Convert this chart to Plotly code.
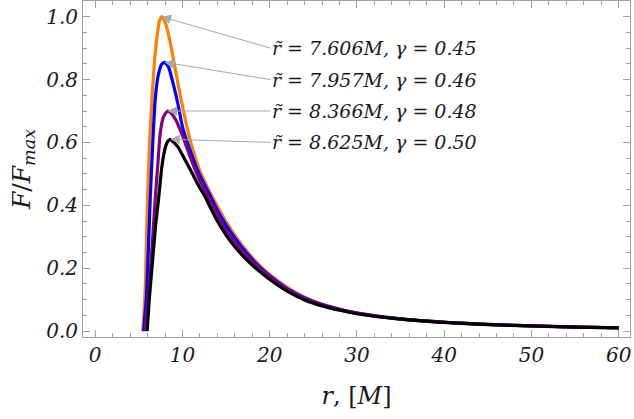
import plotly.graph_objects as go

r_orange = [5.45, 5.6, 5.75, 5.9, 6.0, 6.2, 6.5, 6.8, 7.1, 7.35, 7.6, 7.9, 8.3, 8.8, 9.3, 10, 11, 12, 13, 14, 15, 16, 17,
            18, 19, 20, 22, 24, 26, 28, 30, 35, 40, 45, 50, 55, 60]
f_orange = [0.0, 0.06, 0.15, 0.32, 0.42, 0.58, 0.74, 0.86, 0.94, 0.985, 1.0, 0.99, 0.955, 0.89, 0.815, 0.715, 0.595,
            0.51, 0.45, 0.398, 0.348, 0.305, 0.267, 0.234, 0.205, 0.18, 0.139, 0.108, 0.086, 0.07, 0.058, 0.039, 0.028,
            0.021, 0.0165, 0.013, 0.0105]

r_blue = [5.55, 5.7, 5.85, 6.0, 6.3, 6.6, 6.87, 7.2, 7.6, 7.96, 8.4, 9.0, 9.5, 10, 11, 12, 13, 14, 15, 16, 17,
          18, 19, 20, 22, 24, 26, 28, 30, 35, 40, 45, 50, 55, 60]
f_blue = [0.0, 0.05, 0.1, 0.19, 0.417, 0.6, 0.735, 0.81, 0.848, 0.855, 0.84, 0.78, 0.72, 0.65, 0.565, 0.495, 0.44,
          0.385, 0.337, 0.296, 0.26, 0.228, 0.2, 0.176, 0.135, 0.105, 0.084, 0.069, 0.057, 0.0385, 0.028, 0.021,
          0.0163, 0.0128, 0.0104]

r_purple = [5.7, 5.9, 6.1, 6.4, 6.87, 7.2, 7.45, 7.8, 8.3, 8.8, 9.3, 9.74, 10, 11, 12, 13, 14, 15, 16, 17,
            18, 19, 20, 22, 24, 26, 28, 30, 35, 40, 45, 50, 55, 60]
f_purple = [0.0, 0.05, 0.109, 0.22, 0.417, 0.54, 0.629, 0.68, 0.70, 0.69, 0.668, 0.64, 0.622, 0.545, 0.478, 0.425,
            0.37, 0.321, 0.283, 0.25, 0.221, 0.195, 0.172, 0.132, 0.103, 0.083, 0.068, 0.056, 0.038, 0.0278, 0.0208,
            0.0162, 0.0127, 0.0103]

r_black = [5.95, 6.1, 6.22, 6.5, 6.9, 7.25, 7.64, 8.0, 8.3, 8.6, 9.0, 9.5, 10, 11, 12, 12.6, 13, 14, 15, 16, 17,
           18, 19, 20, 22, 24, 26, 28, 30, 35, 40, 45, 50, 55, 60]
f_black = [0.0, 0.06, 0.109, 0.2, 0.33, 0.417, 0.523, 0.58, 0.603, 0.61, 0.6, 0.585, 0.56, 0.508, 0.455, 0.427,
           0.404, 0.35, 0.305, 0.268, 0.237, 0.21, 0.186, 0.164, 0.127, 0.099, 0.08, 0.066, 0.055, 0.038, 0.0275,
           0.0205, 0.016, 0.0125, 0.0102]

labels = ["r̃ = 7.606M, γ = 0.45", "r̃ = 7.957M, γ = 0.46",
          "r̃ = 8.366M, γ = 0.48", "r̃ = 8.625M, γ = 0.50"]
label_y = [0.90, 0.80, 0.70, 0.60]

series = [
    (r_orange, f_orange, "#FF8000"),
    (r_blue, f_blue, "#0000FF"),
    (r_purple, f_purple, "#800080"),
    (r_black, f_black, "#000000"),
]

FONT = "DejaVu Serif"
FRAME = "#a0a0a0"
TEXT = "#1a1a1a"

fig = go.Figure()
for r, f, col in series:
    fig.add_trace(go.Scatter(
        x=r, y=f, mode="lines",
        line=dict(color=col, width=3.2, shape="spline", smoothing=0.5),
        showlegend=False,
    ))

# arrows from labels to each peak
for (r, f, col), txt, ly in zip(series, labels, label_y):
    i = f.index(max(f))
    fig.add_annotation(
        x=r[i], y=f[i], xref="x", yref="y",
        ax=20.1, ay=ly, axref="x", ayref="y",
        text=f"<i>{txt}</i>", xanchor="left",
        font=dict(family=FONT, size=19, color=TEXT),
        showarrow=True, arrowhead=2, arrowsize=1.9, arrowwidth=1,
        arrowcolor="#a8a8a8", standoff=0, borderpad=0,
    )

axis_common = dict(
    showline=True, linecolor=FRAME, linewidth=1, mirror="allticks",
    ticks="inside", tickcolor=FRAME, ticklen=7, tickwidth=1,
    showgrid=False, zeroline=False, automargin=False,
    tickfont=dict(family=FONT, size=20, color=TEXT, style="italic"),
)

fig.update_xaxes(
    range=[-1.4, 61.3], tickvals=[0, 10, 20, 30, 40, 50, 60],
    minor=dict(ticks="inside", dtick=2, ticklen=4, tickcolor=FRAME, showgrid=False),
    title=dict(text="<i>r</i>, [<i>M</i>]", font=dict(family=FONT, size=24, color=TEXT), standoff=21),
    **axis_common,
)
fig.update_yaxes(
    range=[-0.019, 1.05], tickvals=[0.0, 0.2, 0.4, 0.6, 0.8, 1.0], tickformat=".1f",
    minor=dict(ticks="inside", dtick=0.05, ticklen=4, tickcolor=FRAME, showgrid=False),
    title=dict(text="<i>F</i>/<i>F<sub>max</sub></i>", font=dict(family=FONT, size=25, color=TEXT), standoff=8),
    **axis_common,
)

fig.update_layout(
    width=634, height=419,
    margin=dict(l=83, r=4, t=1, b=82),
    plot_bgcolor="white", paper_bgcolor="white",
)

fig.write_html("out.html", config={"displayModeBar": False},
               post_script="document.body.style.margin='0';")
